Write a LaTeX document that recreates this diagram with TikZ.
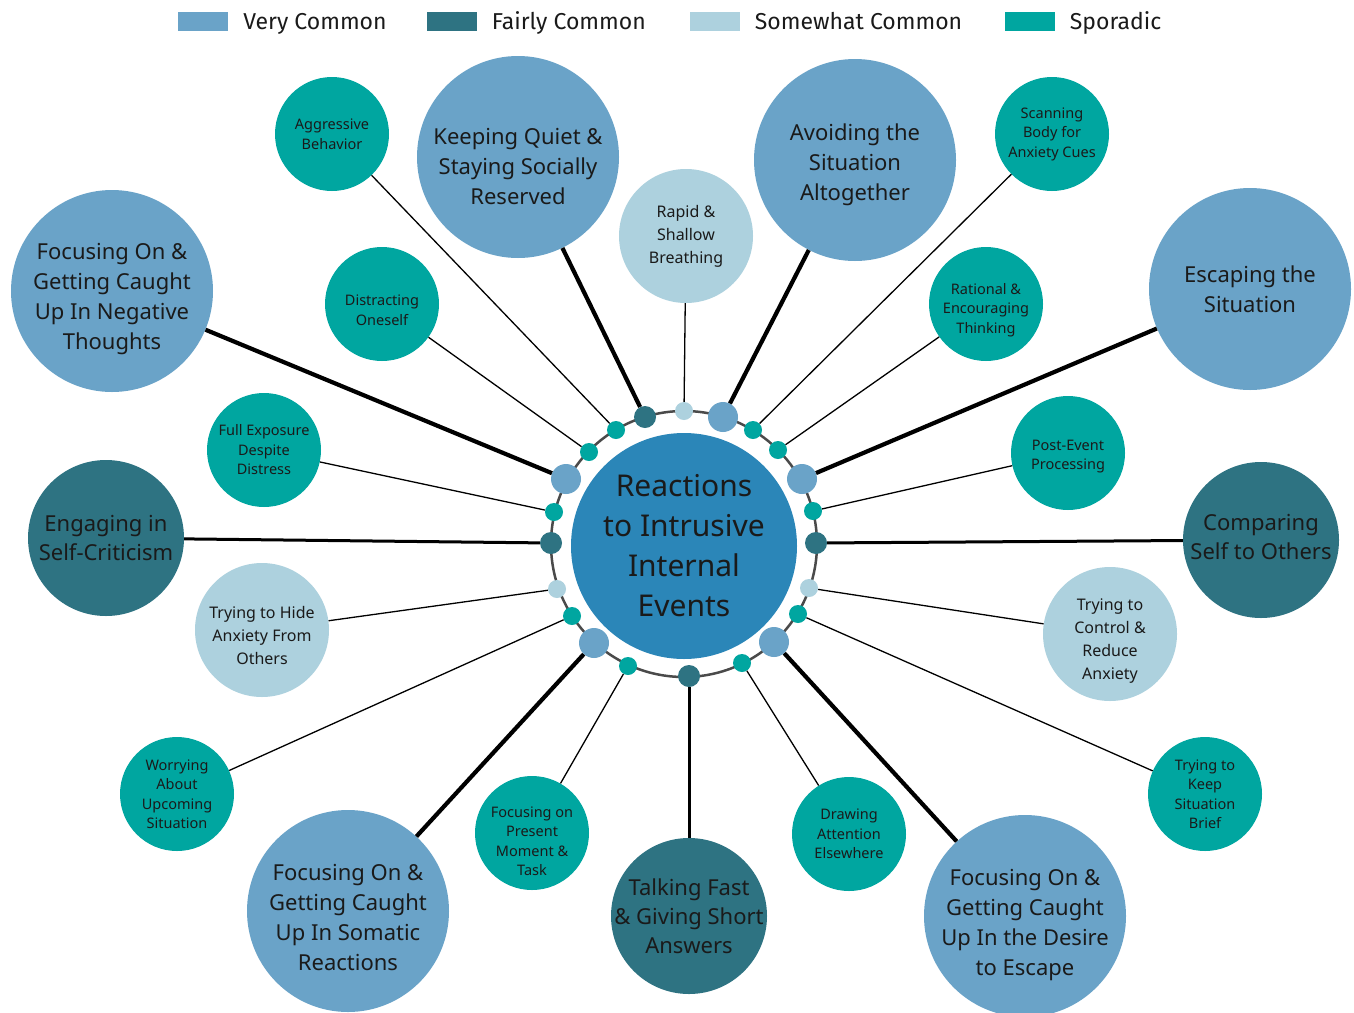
\documentclass[tikz,border=0pt]{standalone}
\usepackage{fontspec}
\setmainfont{Noto Sans}
\newfontfamily\legendfont{Fira Sans}
\usetikzlibrary{positioning}

\definecolor{verycommon}{HTML}{6AA3C8}
\definecolor{fairlycommon}{HTML}{2E7382}
\definecolor{somewhatcommon}{HTML}{ADD1DE}
\definecolor{sporadic}{HTML}{00A6A0}
\definecolor{hub}{HTML}{2B86B8}
\definecolor{ink}{HTML}{1A1A1A}
\definecolor{ringgray}{HTML}{4A4A4A}

% pushes a bubble's text down (first line) or up (last line) by #1
\newcommand{\textdrop}[1]{\rule{0pt}{\dimexpr0.76em+2\dimexpr#1\relax\relax}}
\newcommand{\textlift}[1]{\rule[-2\dimexpr#1\relax]{0pt}{2\dimexpr#1\relax}}

\tikzset{
  bubble/.style={circle, inner sep=-12pt, align=center, text=ink},
  vc/.style={bubble, fill=verycommon, minimum size=202pt, font=\fontsize{22}{30}\selectfont},
  fc/.style={bubble, fill=fairlycommon, minimum size=156pt, font=\fontsize{22}{29}\selectfont},
  sc/.style={bubble, fill=somewhatcommon, minimum size=134pt, font=\fontsize{16}{23}\selectfont},
  sp/.style={bubble, fill=sporadic, minimum size=114pt, font=\fontsize{14.5}{19.5}\selectfont},
  dot/.style={circle, inner sep=0pt},
  dvc/.style={dot, fill=verycommon, minimum size=30pt},
  dfc/.style={dot, fill=fairlycommon, minimum size=22pt},
  dsc/.style={dot, fill=somewhatcommon, minimum size=18pt},
  dsp/.style={dot, fill=sporadic, minimum size=18pt},
  lvc/.style={line width=4.2pt},
  lfc/.style={line width=3pt},
  lsp/.style={line width=1.3pt},
  legbox/.style={minimum width=50pt, minimum height=19pt, inner sep=0pt},
  legtext/.style={font=\legendfont\fontsize{23}{26}\selectfont, text=ink, inner sep=0pt,
    text height=16pt, text depth=0pt},
}

\begin{document}
\begin{tikzpicture}[x=1pt, y=-1pt]

\useasboundingbox[fill=white] (0,0) rectangle (1354,1012);

% legend
\node[legbox, fill=verycommon] (kvc) at (203,21.5) {};
\node[legtext, right=15pt of kvc] {Very Common};
\node[legbox, fill=fairlycommon] (kfc) at (451.5,21.5) {};
\node[legtext, right=15pt of kfc] {Fairly Common};
\node[legbox, fill=somewhatcommon] (ksc) at (714.5,21.5) {};
\node[legtext, right=15pt of ksc] {Somewhat Common};
\node[legbox, fill=sporadic] (ksp) at (1029.5,21.5) {};
\node[legtext, right=15pt of ksp] {Sporadic};

% centre
\node[bubble, fill=hub, minimum size=226pt, font=\fontsize{30}{40}\selectfont] (hub) at (684,546)
  {Reactions\\to Intrusive\\Internal\\Events};
\draw[ringgray, line width=2.5pt] (684,544) circle (133pt);

% dots on the ring
\node[dsp] (d1) at (616,430) {};
\node[dfc] (d2) at (645,417) {};
\node[dsc] (d3) at (684,411) {};
\node[dvc] (d4) at (723,417) {};
\node[dsp] (d5) at (753,430) {};
\node[dsp] (d6) at (778,450) {};
\node[dvc] (d7) at (802,479) {};
\node[dsp] (d8) at (813,511) {};
\node[dfc] (d9) at (816,543) {};
\node[dsc] (d10) at (809,588) {};
\node[dsp] (d11) at (798,614) {};
\node[dvc] (d12) at (774,642) {};
\node[dsp] (d13) at (742,663) {};
\node[dfc] (d14) at (689,676) {};
\node[dsp] (d15) at (628,666) {};
\node[dvc] (d16) at (594,643) {};
\node[dsp] (d17) at (572,616) {};
\node[dsc] (d18) at (557,589) {};
\node[dfc] (d19) at (551,543) {};
\node[dsp] (d20) at (554,512) {};
\node[dvc] (d21) at (566,479) {};
\node[dsp] (d22) at (589,452) {};

% reactions
\node[sp] (aggr) at (332,134) {Aggressive\\Behavior};
\node[vc] (quiet) at (518,157) {\textdrop{9pt}Keeping Quiet \&\\Staying Socially\\Reserved};
\node[sc] (breath) at (686,236) {Rapid \&\\Shallow\\Breathing};
\node[vc] (avoid) at (855,160) {\textdrop{5pt}Avoiding the\\Situation\\Altogether};
\node[sp] (scan) at (1052,134) {Scanning\\Body for\\Anxiety Cues};
\node[vc] (negthought) at (112,291) {\textdrop{8pt}Focusing On \&\\Getting Caught\\Up In Negative\\Thoughts};
\node[sp] (distract) at (382,304) {\textdrop{6pt}Distracting\\Oneself};
\node[sp] (rational) at (986,304) {\textdrop{6pt}Rational \&\\Encouraging\\Thinking};
\node[vc] (escape) at (1250,289) {Escaping the\\Situation};
\node[sp] (exposure) at (264,450) {Full Exposure\\Despite\\Distress};
\node[sp] (postevent) at (1068,453) {\textdrop{3pt}Post-Event\\Processing};
\node[fc] (selfcrit) at (106,538) {Engaging in\\Self-Criticism};
\node[fc] (compare) at (1261,540) {Comparing\\Self to Others\textlift{3pt}};
\node[sc] (hide) at (262,630) {\textdrop{5pt}Trying to Hide\\Anxiety From\\Others};
\node[sc] (control) at (1110,634) {\textdrop{7pt}Trying to\\Control \&\\Reduce\\Anxiety};
\node[sp] (worry) at (177,794) {Worrying\\About\\Upcoming\\Situation};
\node[sp] (brief) at (1205,794) {Trying to\\Keep\\Situation\\Brief};
\node[sp] (present) at (532,833) {\textdrop{8pt}Focusing on\\Present\\Moment \&\\Task};
\node[sp] (drawatt) at (849,834) {Drawing\\Attention\\Elsewhere};
\node[fc] (talkfast) at (689,916) {Talking Fast\\\& Giving Short\\Answers};
\node[vc] (somatic) at (348,911) {\textdrop{6pt}Focusing On \&\\Getting Caught\\Up In Somatic\\Reactions};
\node[vc] (desire) at (1025,916) {\textdrop{9pt}Focusing On \&\\Getting Caught\\Up In the Desire\\to Escape};

% connectors
\draw[lsp] (d1) -- (aggr);
\draw[lvc] (d2) -- (quiet);
\draw[lsp] (d3) -- (breath);
\draw[lvc] (d4) -- (avoid);
\draw[lsp] (d5) -- (scan);
\draw[lsp] (d6) -- (rational);
\draw[lvc] (d7) -- (escape);
\draw[lsp] (d8) -- (postevent);
\draw[lfc] (d9) -- (compare);
\draw[lsp] (d10) -- (control);
\draw[lsp] (d11) -- (brief);
\draw[lvc] (d12) -- (desire);
\draw[lsp] (d13) -- (drawatt);
\draw[lfc] (d14) -- (talkfast);
\draw[lsp] (d15) -- (present);
\draw[lvc] (d16) -- (somatic);
\draw[lsp] (d17) -- (worry);
\draw[lsp] (d18) -- (hide);
\draw[lfc] (d19) -- (selfcrit);
\draw[lsp] (d20) -- (exposure);
\draw[lvc] (d21) -- (negthought);
\draw[lsp] (d22) -- (distract);

\end{tikzpicture}
\end{document}
